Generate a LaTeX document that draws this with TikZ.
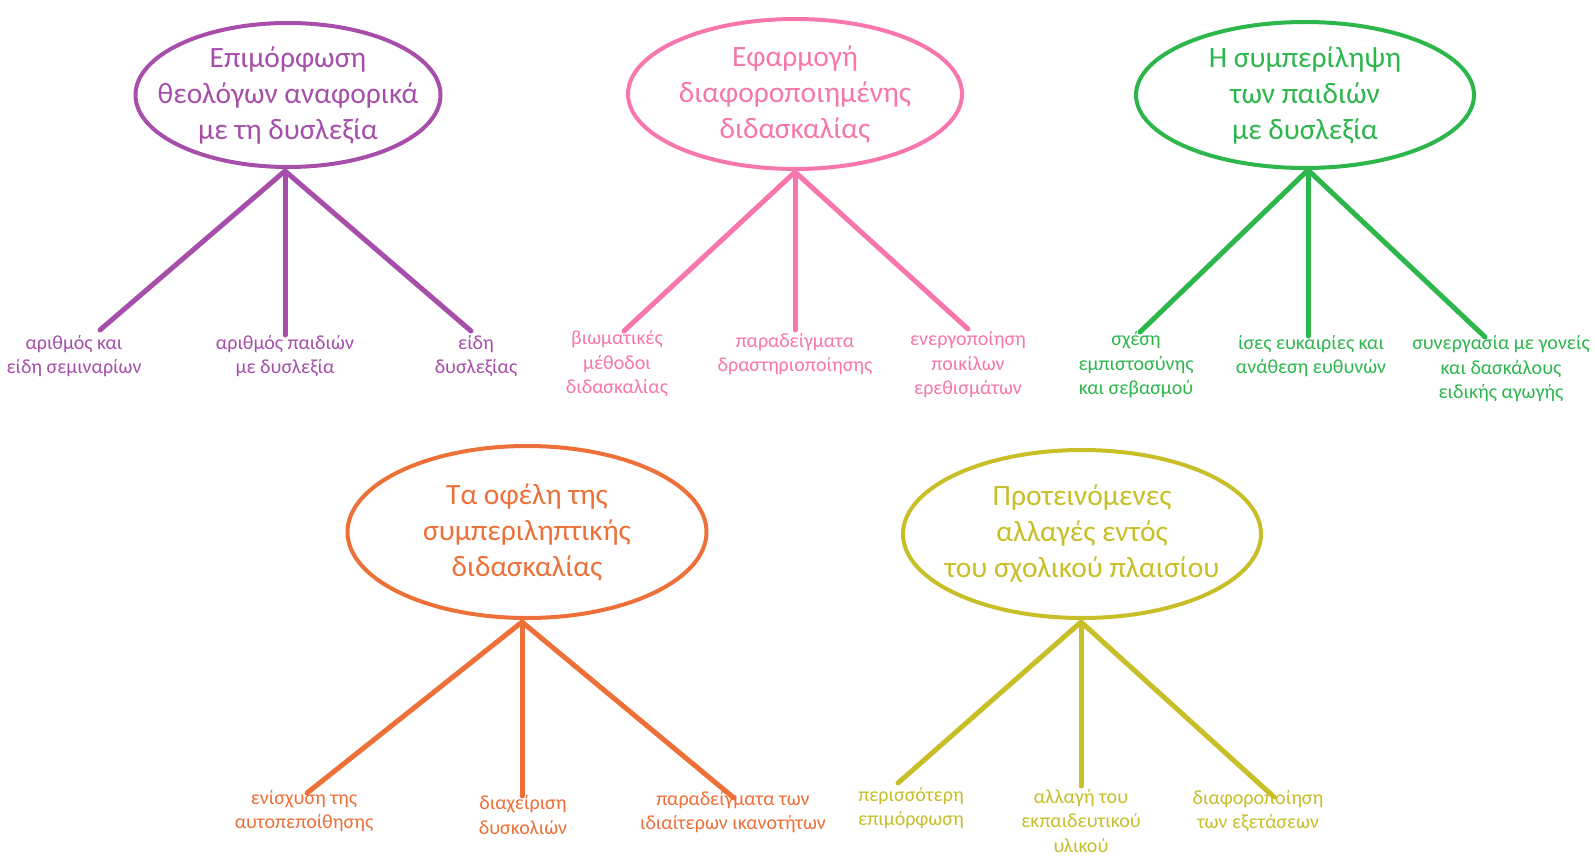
\documentclass[tikz,border=0pt]{standalone}
\usepackage{fontspec}
\setmainfont{Carlito}
\usetikzlibrary{shapes.geometric}
\definecolor{cpurple}{RGB}{166,78,170}
\definecolor{cpink}{RGB}{247,118,172}
\definecolor{cgreen}{RGB}{44,182,76}
\definecolor{corange}{RGB}{236,112,56}
\definecolor{colive}{RGB}{199,190,40}
\tikzset{
  topic/.style={ellipse, draw=#1, text=#1, line width=4pt, inner xsep=-30pt, inner ysep=-5pt,
    align=center, font=\fontsize{29.5}{36}\selectfont},
  leaf/.style={text=#1, align=center, inner sep=0pt, font=\fontsize{20}{24.5}\selectfont},
  branch/.style={draw=#1, line width=5pt, line cap=round}
}
\begin{document}
\begin{tikzpicture}[x=1pt,y=-1pt]
\useasboundingbox (0,0) rectangle (1595,856);
% ---- purple
\node[topic=cpurple, minimum width=305pt, minimum height=144pt] (t1) at (288,95)
  {Επιμόρφωση\\θεολόγων αναφορικά\\με τη δυσλεξία};
\coordinate (a1) at (285,171);
\node[leaf=cpurple] (l11) at (74,356) {αριθμός και\\είδη σεμιναρίων};
\node[leaf=cpurple] (l12) at (285,356) {αριθμός παιδιών\\με δυσλεξία};
\node[leaf=cpurple] (l13) at (476,356) {είδη\\δυσλεξίας};
\coordinate (e11) at (100,330);
\coordinate (e12) at (285,335);
\coordinate (e13) at (471,331);
\foreach \e in {e11,e12,e13} \draw[branch=cpurple] (a1) -- (\e);
% ---- pink
\node[topic=cpink, minimum width=334pt, minimum height=150pt] (t2) at (795,94)
  {Εφαρμογή\\διαφοροποιημένης\\διδασκαλίας};
\coordinate (a2) at (795,172);
\node[leaf=cpink] (l21) at (617,364) {βιωματικές\\μέθοδοι\\διδασκαλίας};
\node[leaf=cpink] (l22) at (795,354) {παραδείγματα\\δραστηριοποίησης};
\node[leaf=cpink] (l23) at (968,365) {ενεργοποίηση\\ποικίλων\\ερεθισμάτων};
\coordinate (e21) at (624,331);
\coordinate (e22) at (795,330);
\coordinate (e23) at (968,329);
\foreach \e in {e21,e22,e23} \draw[branch=cpink] (a2) -- (\e);
% ---- green
\node[topic=cgreen, minimum width=338pt, minimum height=146pt] (t3) at (1305,95)
  {Η συμπερίληψη\\των παιδιών\\με δυσλεξία};
\coordinate (a3) at (1308,170);
\node[leaf=cgreen] (l31) at (1136,365) {σχέση\\εμπιστοσύνης\\και σεβασμού};
\node[leaf=cgreen] (l32) at (1311,356) {ίσες ευκαιρίες και\\ανάθεση ευθυνών};
\node[leaf=cgreen] (l33) at (1501,369) {συνεργασία με γονείς\\και δασκάλους\\ειδικής αγωγής};
\coordinate (e31) at (1140,332);
\coordinate (e32) at (1308,336);
\coordinate (e33) at (1485,337);
\foreach \e in {e31,e32,e33} \draw[branch=cgreen] (a3) -- (\e);
% ---- orange
\node[topic=corange, minimum width=359pt, minimum height=172pt] (t4) at (527,532)
  {Τα οφέλη της\\συμπεριληπτικής\\διδασκαλίας};
\coordinate (a4) at (522,622);
\node[leaf=corange] (l41) at (304,811) {ενίσχυση της\\αυτοπεποίθησης};
\node[leaf=corange] (l42) at (523,815) {διαχείριση\\δυσκολιών};
\node[leaf=corange] (l43) at (733,812) {παραδείγματα των\\ιδιαίτερων ικανοτήτων};
\coordinate (e41) at (307,793);
\coordinate (e42) at (522,796);
\coordinate (e43) at (734,798);
\foreach \e in {e41,e42,e43} \draw[branch=corange] (a4) -- (\e);
% ---- olive
\node[topic=colive, minimum width=358pt, minimum height=168pt] (t5) at (1082,534)
  {Προτεινόμενες\\αλλαγές εντός\\του σχολικού πλαισίου};
\coordinate (a5) at (1081,622);
\node[leaf=colive] (l51) at (911,808) {περισσότερη\\επιμόρφωση};
\node[leaf=colive] (l52) at (1081,821) {αλλαγή του\\εκπαιδευτικού\\υλικού};
\node[leaf=colive] (l53) at (1258,811) {διαφοροποίηση\\των εξετάσεων};
\coordinate (e51) at (898,783);
\coordinate (e52) at (1081,786);
\coordinate (e53) at (1274,797);
\foreach \e in {e51,e52,e53} \draw[branch=colive] (a5) -- (\e);
\end{tikzpicture}
\end{document}
